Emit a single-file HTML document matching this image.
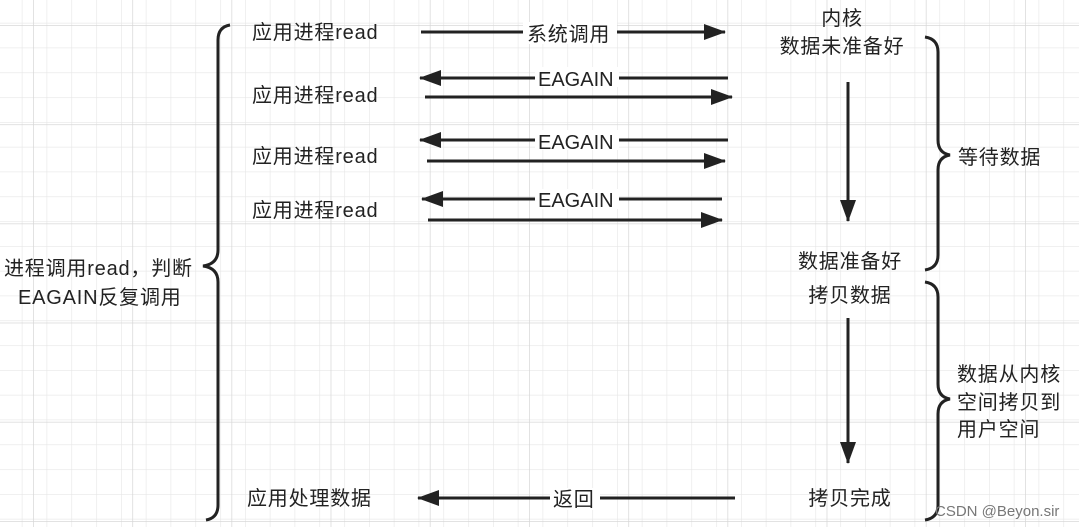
<!DOCTYPE html>
<html><head><meta charset="utf-8"><style>
body{margin:0;background:#fff}
svg text{font-family:"Liberation Sans","Noto Sans CJK SC",sans-serif;font-size:20px;fill:#222;letter-spacing:0.8px}
</style></head><body>
<svg width="1079" height="527" xmlns="http://www.w3.org/2000/svg">
<defs>
<pattern id="g" x="-3" y="-2" width="24.8" height="24.8" patternUnits="userSpaceOnUse">
<path d="M0 0H24.8M0 0V24.8" stroke="#e6e6e6" stroke-width="1.2" fill="none"/>
</pattern>
<pattern id="G" x="33" y="25" width="99.2" height="99.2" patternUnits="userSpaceOnUse">
<path d="M0 0H99.2M0 0V99.2" stroke="#d8d8d8" stroke-width="1.5" fill="none"/>
</pattern>
<marker id="b" markerWidth="22" markerHeight="16" refX="21" refY="8" orient="auto" markerUnits="userSpaceOnUse">
<path d="M0 0L22 8L0 16Z" fill="#222"/></marker>
</defs>
<rect width="1079" height="527" fill="url(#g)"/>
<rect width="1079" height="527" fill="url(#G)"/>
<g stroke="#222" stroke-width="3" fill="none">
<path d="M230 25Q218 27 218 40V250Q218 264 203 266Q218 268 218 282V505Q218 518 206 520"/>
<path d="M925 37Q938 39 938 52V140Q938 153 950 155Q938 157 938 170V255Q938 268 925 270"/>
<path d="M925 282Q938 284 938 297V384Q938 397 950 399Q938 401 938 414V505Q938 518 925 520"/>
<line x1="421" y1="32" x2="725" y2="32" marker-end="url(#b)"/>
<line x1="728" y1="78" x2="420" y2="78" marker-end="url(#b)"/>
<line x1="425" y1="97" x2="732" y2="97" marker-end="url(#b)"/>
<line x1="728" y1="140" x2="420" y2="140" marker-end="url(#b)"/>
<line x1="427" y1="161" x2="725" y2="161" marker-end="url(#b)"/>
<line x1="722" y1="199" x2="422" y2="199" marker-end="url(#b)"/>
<line x1="428" y1="220" x2="722" y2="220" marker-end="url(#b)"/>
<line x1="735" y1="498" x2="418" y2="498" marker-end="url(#b)"/>
<line x1="848" y1="82" x2="848" y2="221" marker-end="url(#b)"/>
<line x1="848" y1="318" x2="848" y2="463" marker-end="url(#b)"/>
</g>
<g fill="#fff">
<rect x="523" y="22" width="94" height="22"/>
<rect x="535" y="67" width="84" height="20"/>
<rect x="535" y="130" width="84" height="20"/>
<rect x="535" y="189" width="84" height="20"/>
<rect x="550" y="488" width="50" height="22"/>
</g>
<text x="252" y="39">应用进程read</text>
<text x="252" y="102">应用进程read</text>
<text x="252" y="163">应用进程read</text>
<text x="252" y="217">应用进程read</text>
<text x="247" y="505">应用处理数据</text>
<text x="527" y="41">系统调用</text>
<text x="538" y="86" style="letter-spacing:0">EAGAIN</text>
<text x="538" y="149" style="letter-spacing:0">EAGAIN</text>
<text x="538" y="207" style="letter-spacing:0">EAGAIN</text>
<text x="553" y="506">返回</text>
<text x="4" y="275">进程调用read，判断</text>
<text x="18" y="304">EAGAIN反复调用</text>
<g text-anchor="middle">
<text x="842" y="25">内核</text>
<text x="842" y="53">数据未准备好</text>
<text x="850" y="268">数据准备好</text>
<text x="850" y="302">拷贝数据</text>
<text x="850" y="505">拷贝完成</text>
</g>
<text x="958" y="164">等待数据</text>
<text x="957" y="381">数据从内核</text>
<text x="957" y="409">空间拷贝到</text>
<text x="957" y="436">用户空间</text>
<text x="935" y="516" style="font-size:15px;fill:#777;letter-spacing:0">CSDN @Beyon.sir</text>
</svg>
</body></html>
